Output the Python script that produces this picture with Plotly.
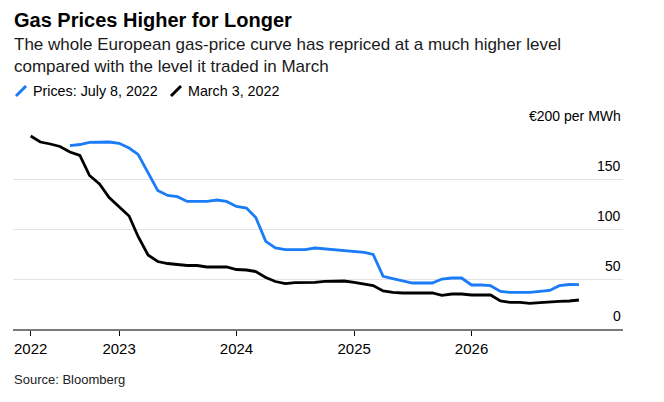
import pandas as pd
import plotly.graph_objs as go

# monthly forward curve, EUR per MWh
march_dates = pd.date_range('2022-04-01', '2026-12-01', freq='MS')
march_prices = [193, 187, 185, 182.5, 177, 173.5, 153.5, 145, 131.5,
                122.5, 113, 92.5, 74, 67.5, 65.5, 64.5, 63.5, 63.5, 62, 62, 62,
                59.5, 59, 57.5, 51.5, 47.5, 45.3, 46.3, 46.3, 46.6, 47.6, 48, 48,
                46.6, 45, 43.5, 38, 36.6, 36, 36, 36, 36, 33.6, 35, 35,
                34, 34, 34, 28, 26.6, 26.6, 25.6, 26.3, 26.6, 27.6, 28, 29]

july_dates = pd.date_range('2022-08-01', '2026-12-01', freq='MS')
july_prices = [183.3, 184.5, 186.6, 187, 187,
               185.7, 181, 174.6, 157, 138.6, 133.5, 132.3, 127.6, 127.6, 127.6, 129, 127.6,
               122.6, 121, 111.5, 87.6, 81, 79.3, 79.3, 79.3, 81, 80, 79.3, 78.3,
               77.3, 76.6, 74.6, 52.6, 50.3, 48.3, 46, 46, 46, 50, 51, 51,
               44, 44, 43.3, 37.6, 36.6, 36.6, 36.6, 37.6, 38.6, 43.3, 44.5, 44.3]

x_tickvals = ['2022-04-01', '2023-01-01', '2024-01-01', '2025-01-01', '2026-01-01']
x_ticktext = ['2022', '2023', '2024', '2025', '2026']
y_tickvals = [0, 50, 100, 150, 200]
y_ticktext = ['0', '50', '100', '150', '€200 per MWh']

blue = '#1a7cf7'
font = 'Liberation Sans, Arial, sans-serif'

trace_march = go.Scatter(x=march_dates, y=march_prices, mode='lines',
                         line=dict(color='#000000', width=2.8), name='March 3, 2022')
trace_july = go.Scatter(x=july_dates, y=july_prices, mode='lines',
                        line=dict(color=blue, width=2.8), name='Prices: July 8, 2022')

fig = go.Figure([trace_march, trace_july])

# plot area spans x 13..623 px, y 128..329 px (1 px per EUR)
def px(x):
    return (x - 13) / 610

def py(y):
    return (329 - y) / 201

fig.update_layout(
    width=664, height=402,
    margin=dict(l=13, r=41, t=128, b=73),
    paper_bgcolor='white', plot_bgcolor='white',
    showlegend=False,
    font=dict(family=font, color='#000000'),
    xaxis=dict(type='date', range=['2022-02-05', '2027-04-17'],
               tickvals=x_tickvals, ticktext=x_ticktext,
               showgrid=False, zeroline=False, automargin=False,
               showline=True, linecolor='#7a7a7a', linewidth=2,
               ticks='outside', ticklen=5, tickcolor='#000000', tickwidth=1,
               tickfont=dict(size=15)),
    yaxis=dict(range=[0, 201], tickvals=y_tickvals, showticklabels=False,
               showgrid=True, gridcolor='#e3e3e3', gridwidth=1,
               zeroline=False, ticks='', automargin=False),
)

annotations = [
    dict(text='<b>Gas Prices Higher for Longer</b>', x=px(12), y=py(20),
         xanchor='left', yanchor='middle', font=dict(size=20)),
    dict(text='The whole European gas-price curve has repriced at a much higher level<br>'
              'compared with the level it traded in March',
         x=px(12), y=py(55), xanchor='left', yanchor='middle', align='left',
         font=dict(size=17, color='#1a1a1a')),
    dict(text='Prices: July 8, 2022', x=px(31), y=py(91),
         xanchor='left', yanchor='middle', font=dict(size=14.3)),
    dict(text='March 3, 2022', x=px(186), y=py(91),
         xanchor='left', yanchor='middle', font=dict(size=14.3)),
    dict(text='Source: Bloomberg', x=px(12), y=py(379),
         xanchor='left', yanchor='middle', font=dict(size=13, color='#222222')),
]
for a in annotations:
    a.update(xref='paper', yref='paper', showarrow=False)

# y labels sit above their gridlines, right aligned
for v, t in zip(y_tickvals, y_ticktext):
    annotations.append(dict(text=t, xref='paper', yref='y', x=1, y=v,
                            xanchor='right', yanchor='middle', yshift=13,
                            showarrow=False, font=dict(size=14)))
fig.update_layout(annotations=annotations)

# slanted legend keys
for x0, c in [(16, blue), (171, '#000000')]:
    fig.add_shape(type='line', xref='paper', yref='paper',
                  x0=px(x0), y0=py(96), x1=px(x0 + 10), y1=py(86),
                  line=dict(color=c, width=3))

fig.write_html("out.html", config={'displayModeBar': False},
               post_script="document.body.style.margin='0';")
